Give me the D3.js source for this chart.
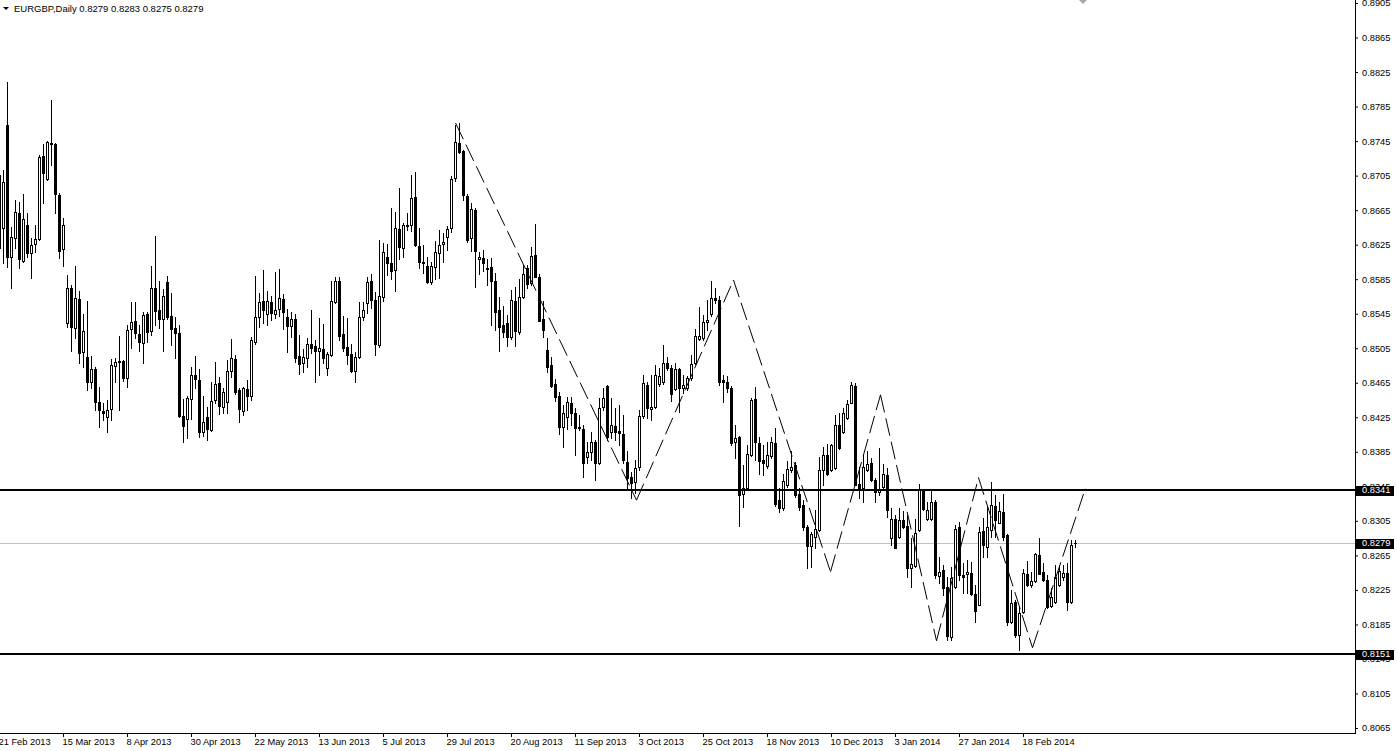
<!DOCTYPE html>
<html><head><meta charset="utf-8">
<script src="https://cdn.jsdelivr.net/npm/d3@7"></script>
<style>
html,body{margin:0;padding:0;background:#fff;overflow:hidden}
svg{display:block}
text{font-family:"Liberation Sans",Arial,sans-serif}
</style></head><body>
<svg id="c" width="1397" height="751"></svg>
<script>
const symbolTitle = "EURGBP,Daily";
const lastQuote = ["0.8279","0.8283","0.8275","0.8279"];

const opens = [
0.8706,0.8644,0.8764,0.8611,0.8633,0.8662,0.8606,0.8648,0.8615,0.8626,
0.8632,0.8728,0.8701,0.8743,0.8742,0.8683,0.8620,0.8534,0.8575,0.8528,
0.8562,0.8501,0.8495,0.8466,0.8481,0.8443,0.8432,0.8425,0.8435,0.8484,
0.8489,0.8490,0.8471,0.8527,0.8537,0.8522,0.8511,0.8545,0.8525,0.8575,
0.8549,0.8539,0.8582,0.8542,0.8528,0.8523,0.8426,0.8423,0.8446,0.8474,
0.8468,0.8408,0.8425,0.8410,0.8445,0.8465,0.8437,0.8443,0.8479,0.8493,
0.8457,0.8432,0.8458,0.8450,0.8512,0.8541,0.8560,0.8545,0.8559,0.8545,
0.8550,0.8562,0.8541,0.8531,0.8539,0.8496,0.8488,0.8494,0.8510,0.8508,
0.8502,0.8504,0.8482,0.8497,0.8559,0.8583,0.8522,0.8506,0.8498,0.8479,
0.8495,0.8541,0.8557,0.8583,0.8561,0.8509,0.8564,0.8611,0.8604,0.8596,
0.8643,0.8621,0.8648,0.8648,0.8680,0.8624,0.8605,0.8600,0.8582,0.8599,
0.8615,0.8626,0.8634,0.8644,0.8702,0.8743,0.8734,0.8681,0.8633,0.8665,
0.8608,0.8610,0.8598,0.8599,0.8583,0.8549,0.8532,0.8534,0.8518,0.8560,
0.8524,0.8564,0.8598,0.8581,0.8613,0.8588,0.8539,0.8503,0.8486,0.8464,
0.8450,0.8414,0.8425,0.8442,0.8430,0.8414,0.8411,0.8379,0.8385,0.8396,
0.8372,0.8437,0.8461,0.8408,0.8415,0.8409,0.8406,0.8373,0.8356,0.8350,
0.8367,0.8426,0.8462,0.8435,0.8437,0.8464,0.8466,0.8488,0.8482,0.8458,
0.8481,0.8459,0.8459,0.8471,0.8488,0.8516,0.8517,0.8535,0.8545,0.8563,
0.8561,0.8468,0.8466,0.8459,0.8396,0.8402,0.8336,0.8343,0.8381,0.8446,
0.8395,0.8375,0.8369,0.8380,0.8395,0.8329,0.8320,0.8347,0.8364,0.8370,
0.8336,0.8323,0.8298,0.8276,0.8286,0.8294,0.8364,0.8381,0.8364,0.8366,
0.8416,0.8408,0.8424,0.8442,0.8461,0.8348,0.8343,0.8364,0.8372,0.8352,
0.8338,0.8344,0.8358,0.8285,0.8307,0.8286,0.8306,0.8299,0.8250,0.8253,
0.8294,0.8341,0.8307,0.8307,0.8327,0.8241,0.8248,0.8228,0.8171,0.8228,
0.8298,0.8242,0.8244,0.8245,0.8220,0.8208,0.8293,0.8275,0.8294,0.8322,
0.8303,0.8315,0.8289,0.8188,0.8211,0.8173,0.8199,0.8244,0.8231,0.8235,
0.8265,0.8246,0.8236,0.8206,0.8211,0.8231,0.8240,0.8245,0.8211,0.8279];

const highs = [
0.8715,0.8712,0.8813,0.8645,0.8677,0.8675,0.8684,0.8662,0.8633,0.8648,
0.8729,0.8742,0.8745,0.8793,0.8743,0.8685,0.8656,0.8590,0.8578,0.8600,
0.8571,0.8545,0.8560,0.8496,0.8483,0.8460,0.8442,0.8445,0.8493,0.8494,
0.8519,0.8491,0.8532,0.8559,0.8559,0.8532,0.8547,0.8547,0.8600,0.8635,
0.8583,0.8574,0.8589,0.8569,0.8541,0.8532,0.8446,0.8450,0.8483,0.8496,
0.8481,0.8450,0.8437,0.8466,0.8489,0.8472,0.8459,0.8491,0.8516,0.8497,
0.8459,0.8460,0.8468,0.8518,0.8589,0.8569,0.8596,0.8571,0.8566,0.8593,
0.8597,0.8568,0.8550,0.8547,0.8545,0.8520,0.8504,0.8517,0.8549,0.8515,
0.8540,0.8533,0.8501,0.8583,0.8588,0.8588,0.8542,0.8540,0.8510,0.8501,
0.8559,0.8559,0.8588,0.8591,0.8570,0.8630,0.8627,0.8626,0.8667,0.8663,
0.8691,0.8650,0.8662,0.8706,0.8709,0.8644,0.8625,0.8611,0.8605,0.8629,
0.8642,0.8638,0.8647,0.8705,0.8764,0.8766,0.8735,0.8684,0.8673,0.8667,
0.8617,0.8619,0.8608,0.8610,0.8592,0.8564,0.8554,0.8544,0.8572,0.8576,
0.8585,0.8602,0.8602,0.8622,0.8649,0.8591,0.8560,0.8517,0.8495,0.8469,
0.8454,0.8439,0.8448,0.8448,0.8436,0.8428,0.8416,0.8396,0.8408,0.8399,
0.8447,0.8459,0.8462,0.8447,0.8436,0.8439,0.8428,0.8386,0.8362,0.8375,
0.8433,0.8474,0.8466,0.8474,0.8486,0.8482,0.8509,0.8495,0.8486,0.8488,
0.8482,0.8474,0.8473,0.8497,0.8527,0.8553,0.8544,0.8561,0.8583,0.8575,
0.8566,0.8474,0.8473,0.8461,0.8416,0.8403,0.8370,0.8393,0.8447,0.8460,
0.8402,0.8393,0.8396,0.8402,0.8413,0.8343,0.8359,0.8374,0.8386,0.8373,
0.8343,0.8329,0.8300,0.8292,0.8318,0.8379,0.8391,0.8394,0.8394,0.8428,
0.8430,0.8436,0.8445,0.8466,0.8465,0.8367,0.8381,0.8386,0.8378,0.8355,
0.8389,0.8371,0.8366,0.8320,0.8312,0.8320,0.8316,0.8312,0.8285,0.8307,
0.8348,0.8342,0.8327,0.8342,0.8329,0.8263,0.8254,0.8240,0.8252,0.8300,
0.8304,0.8256,0.8260,0.8257,0.8231,0.8298,0.8308,0.8322,0.8350,0.8335,
0.8327,0.8336,0.8290,0.8225,0.8213,0.8205,0.8249,0.8258,0.8246,0.8268,
0.8285,0.8256,0.8242,0.8227,0.8254,0.8254,0.8254,0.8256,0.8283,0.8283];

const lows = [
0.8598,0.8604,0.8599,0.8575,0.8621,0.8598,0.8605,0.8611,0.8586,0.8617,
0.8630,0.8673,0.8700,0.8717,0.8662,0.8610,0.8600,0.8530,0.8502,0.8517,
0.8488,0.8483,0.8457,0.8459,0.8433,0.8414,0.8422,0.8408,0.8422,0.8466,
0.8433,0.8467,0.8460,0.8505,0.8517,0.8502,0.8488,0.8512,0.8520,0.8532,
0.8528,0.8502,0.8539,0.8509,0.8494,0.8425,0.8396,0.8401,0.8423,0.8459,
0.8402,0.8403,0.8399,0.8409,0.8442,0.8429,0.8430,0.8430,0.8472,0.8452,
0.8420,0.8428,0.8433,0.8445,0.8510,0.8530,0.8534,0.8532,0.8538,0.8540,
0.8542,0.8527,0.8501,0.8518,0.8489,0.8475,0.8477,0.8483,0.8499,0.8466,
0.8474,0.8488,0.8474,0.8496,0.8557,0.8515,0.8502,0.8487,0.8477,0.8466,
0.8494,0.8538,0.8546,0.8552,0.8497,0.8506,0.8560,0.8590,0.8585,0.8571,
0.8608,0.8611,0.8642,0.8641,0.8623,0.8598,0.8592,0.8581,0.8580,0.8585,
0.8586,0.8605,0.8619,0.8640,0.8699,0.8731,0.8677,0.8628,0.8618,0.8576,
0.8591,0.8594,0.8578,0.8532,0.8526,0.8502,0.8518,0.8508,0.8516,0.8508,
0.8521,0.8563,0.8575,0.8578,0.8587,0.8536,0.8518,0.8477,0.8460,0.8444,
0.8406,0.8391,0.8411,0.8416,0.8381,0.8410,0.8356,0.8372,0.8375,0.8352,
0.8371,0.8433,0.8399,0.8401,0.8399,0.8393,0.8372,0.8343,0.8331,0.8337,
0.8364,0.8424,0.8424,0.8422,0.8436,0.8461,0.8463,0.8480,0.8444,0.8457,
0.8431,0.8453,0.8457,0.8468,0.8487,0.8515,0.8515,0.8526,0.8542,0.8557,
0.8462,0.8443,0.8454,0.8393,0.8378,0.8299,0.8321,0.8341,0.8380,0.8375,
0.8359,0.8358,0.8366,0.8378,0.8322,0.8315,0.8318,0.8344,0.8362,0.8333,
0.8318,0.8294,0.8250,0.8252,0.8274,0.8293,0.8347,0.8358,0.8363,0.8365,
0.8388,0.8407,0.8423,0.8441,0.8346,0.8332,0.8327,0.8363,0.8351,0.8327,
0.8335,0.8343,0.8310,0.8277,0.8273,0.8285,0.8297,0.8240,0.8228,0.8252,
0.8293,0.8318,0.8306,0.8306,0.8239,0.8233,0.8219,0.8167,0.8167,0.8227,
0.8236,0.8221,0.8221,0.8219,0.8188,0.8207,0.8263,0.8263,0.8286,0.8286,
0.8302,0.8283,0.8184,0.8187,0.8170,0.8155,0.8198,0.8230,0.8228,0.8234,
0.8243,0.8235,0.8204,0.8205,0.8210,0.8230,0.8236,0.8202,0.8210,0.8275];

const closes = [
0.8621,0.8698,0.8611,0.8634,0.8663,0.8608,0.8655,0.8615,0.8625,0.8632,
0.8727,0.8708,0.8744,0.8742,0.8684,0.8618,0.8648,0.8575,0.8530,0.8563,
0.8499,0.8525,0.8466,0.8481,0.8443,0.8433,0.8430,0.8433,0.8485,0.8489,
0.8490,0.8471,0.8526,0.8535,0.8523,0.8512,0.8543,0.8524,0.8575,0.8548,
0.8539,0.8566,0.8541,0.8527,0.8523,0.8426,0.8415,0.8447,0.8474,0.8469,
0.8408,0.8420,0.8411,0.8444,0.8464,0.8438,0.8454,0.8479,0.8494,0.8454,
0.8435,0.8459,0.8450,0.8515,0.8541,0.8559,0.8549,0.8560,0.8546,0.8549,
0.8563,0.8547,0.8531,0.8539,0.8494,0.8487,0.8495,0.8510,0.8505,0.8502,
0.8505,0.8494,0.8498,0.8560,0.8583,0.8519,0.8505,0.8497,0.8479,0.8495,
0.8541,0.8549,0.8582,0.8561,0.8510,0.8566,0.8617,0.8604,0.8594,0.8644,
0.8622,0.8648,0.8647,0.8679,0.8625,0.8605,0.8604,0.8582,0.8600,0.8617,
0.8625,0.8628,0.8643,0.8701,0.8744,0.8732,0.8683,0.8630,0.8666,0.8618,
0.8611,0.8604,0.8597,0.8583,0.8547,0.8530,0.8524,0.8518,0.8561,0.8525,
0.8564,0.8591,0.8580,0.8612,0.8588,0.8537,0.8526,0.8483,0.8461,0.8448,
0.8414,0.8430,0.8443,0.8430,0.8413,0.8413,0.8372,0.8385,0.8396,0.8372,
0.8436,0.8447,0.8402,0.8416,0.8408,0.8407,0.8375,0.8355,0.8349,0.8366,
0.8426,0.8465,0.8436,0.8437,0.8474,0.8473,0.8488,0.8482,0.8452,0.8481,
0.8459,0.8462,0.8471,0.8487,0.8519,0.8519,0.8535,0.8538,0.8563,0.8561,
0.8466,0.8466,0.8459,0.8395,0.8401,0.8335,0.8343,0.8382,0.8445,0.8396,
0.8374,0.8372,0.8381,0.8396,0.8325,0.8320,0.8351,0.8365,0.8367,0.8335,
0.8321,0.8298,0.8276,0.8290,0.8296,0.8364,0.8381,0.8359,0.8393,0.8416,
0.8389,0.8430,0.8440,0.8462,0.8347,0.8343,0.8367,0.8371,0.8352,0.8338,
0.8341,0.8359,0.8318,0.8307,0.8274,0.8306,0.8298,0.8250,0.8255,0.8291,
0.8341,0.8319,0.8318,0.8327,0.8242,0.8246,0.8227,0.8172,0.8239,0.8296,
0.8242,0.8240,0.8246,0.8220,0.8201,0.8292,0.8277,0.8298,0.8323,0.8306,
0.8316,0.8286,0.8188,0.8210,0.8173,0.8198,0.8245,0.8231,0.8235,0.8267,
0.8243,0.8236,0.8205,0.8217,0.8240,0.8247,0.8245,0.8211,0.8277,0.8279];

const dateLabels = ["21 Feb 2013","15 Mar 2013","8 Apr 2013","30 Apr 2013","22 May 2013","13 Jun 2013",
  "5 Jul 2013","29 Jul 2013","20 Aug 2013","11 Sep 2013","3 Oct 2013","25 Oct 2013","18 Nov 2013",
  "10 Dec 2013","3 Jan 2014","27 Jan 2014","18 Feb 2014"];
const dateLabelBars = [0,16,32,48,64,80,96,112,128,144,160,176,192,208,224,240,256];

const priceTicks = [0.8905,0.8865,0.8825,0.8785,0.8745,0.8705,0.8665,0.8625,0.8585,0.8545,0.8505,
  0.8465,0.8425,0.8385,0.8345,0.8305,0.8265,0.8225,0.8185,0.8145,0.8105,0.8065];

const levelPrices = [0.8341, 0.8151];
const bidPrice = 0.8279;

// zigzag pattern vertices: bar position, price
const zigzagBars   = [114, 159.25, 183.5, 207.75, 220.25, 234.25, 244.75, 258.25, 271.5];
const zigzagPrices = [0.8766, 0.8329, 0.8584, 0.8246, 0.8451, 0.8166, 0.8355, 0.8158, 0.8343];

// ---------------------------------------------------------------
const plotRight = 1355, plotBottom = 733;
const svg = d3.select("#c");
const x = d3.scaleLinear().domain([0, 269]).range([-1, 1075]);
const y = d3.scaleLinear().domain([0.8065, 0.8905]).range([728, 3]);

svg.append("defs").append("clipPath").attr("id","plot")
  .append("rect").attr("x",0).attr("y",0).attr("width",plotRight).attr("height",plotBottom);

const plot = svg.append("g").attr("clip-path","url(#plot)");

const bars = opens.map((o,i)=>({i, o, h:highs[i], l:lows[i], c:closes[i]}));
const px = i => Math.round(x(i));
const py = v => Math.round(y(v));

// bid line (behind candles)
plot.append("line")
  .attr("x1",0).attr("x2",plotRight)
  .attr("y1",py(bidPrice)+0.5).attr("y2",py(bidPrice)+0.5)
  .attr("stroke","#c0c0c0").attr("stroke-width",1);

// wicks
plot.append("g").selectAll("line").data(bars).join("line")
  .attr("x1",d=>px(d.i)+0.5).attr("x2",d=>px(d.i)+0.5)
  .attr("y1",d=>py(d.h)).attr("y2",d=>py(d.l)+1)
  .attr("stroke","#000").attr("stroke-width",1);

// bodies
const bodyG = plot.append("g");
bars.forEach(d=>{
  const cx = px(d.i);
  const top = Math.min(py(d.o), py(d.c));
  const bot = Math.max(py(d.o), py(d.c));
  if (bot - top < 1) {
    bodyG.append("rect").attr("x",cx-1).attr("y",top).attr("width",3).attr("height",1).attr("fill","#000");
  } else if (d.c >= d.o) {
    bodyG.append("rect").attr("x",cx-0.5).attr("y",top+0.5).attr("width",2).attr("height",bot-top)
      .attr("fill","#fff").attr("stroke","#000").attr("stroke-width",1);
  } else {
    bodyG.append("rect").attr("x",cx-1).attr("y",top).attr("width",3).attr("height",bot-top+1).attr("fill","#000");
  }
});

// horizontal levels
plot.append("g").selectAll("line").data(levelPrices).join("line")
  .attr("x1",0).attr("x2",plotRight)
  .attr("y1",d=>py(d)).attr("y2",d=>py(d))
  .attr("stroke","#000").attr("stroke-width",2);

// zigzag dashed segments
const zz = zigzagBars.map((b,i)=>[b, zigzagPrices[i]]);
const lineGen = d3.line().x(d=>x(d[0])+0.5).y(d=>y(d[1]));
plot.append("g").selectAll("path").data(d3.pairs(zz)).join("path")
  .attr("d",d=>lineGen(d)).attr("fill","none")
  .attr("stroke","#000").attr("stroke-width",1).attr("stroke-dasharray","18,6");

// frame
svg.append("line").attr("x1",plotRight+0.5).attr("x2",plotRight+0.5).attr("y1",0).attr("y2",plotBottom+1)
  .attr("stroke","#000");
svg.append("line").attr("x1",0).attr("x2",plotRight+1).attr("y1",plotBottom+0.5).attr("y2",plotBottom+0.5)
  .attr("stroke","#000");

// right price axis
const yAxis = d3.axisRight(y).tickValues(priceTicks).tickSize(3).tickPadding(4)
  .tickFormat(d3.format(".4f"));
const ya = svg.append("g").attr("transform",`translate(${plotRight},0)`).call(yAxis);
ya.select(".domain").remove();
ya.selectAll("text").attr("font-family","'Liberation Sans',Arial,sans-serif").attr("font-size","9.3px").attr("fill","#000");

// price label boxes
const boxes = [...levelPrices, bidPrice];
const bx = svg.append("g");
boxes.forEach(p=>{
  const yy = y(p);
  bx.append("rect").attr("x",plotRight+1).attr("y",Math.round(yy)-4).attr("width",38).attr("height",10).attr("fill","#000");
  bx.append("text").attr("x",plotRight+7).attr("y",yy).attr("dy","0.34em")
    .attr("font-size","9.3px").attr("fill","#fff").text(d3.format(".4f")(p));
});

// bottom date axis
const xAxis = d3.axisBottom(x).tickValues(dateLabelBars).tickSize(4)
  .tickFormat((d,i)=>dateLabels[i]);
const xa = svg.append("g").attr("transform",`translate(0,${plotBottom})`).call(xAxis);
xa.select(".domain").remove();
xa.selectAll("text").attr("text-anchor","start").attr("x",-1).attr("y",5)
  .attr("font-family","'Liberation Sans',Arial,sans-serif").attr("font-size","9.3px").attr("fill","#000");

// header
svg.append("path").attr("d","M3,7 L9,7 L6,10 Z").attr("fill","#000");
svg.append("text").attr("x",14).attr("y",12).attr("font-size","9.5px").attr("fill","#000")
  .text(symbolTitle + "  " + lastQuote.join(" "));

// chart shift marker
svg.append("path").attr("d","M1079,0 L1087,0 L1083,4 Z").attr("fill","#a8a8a8");
</script>
</body></html>
